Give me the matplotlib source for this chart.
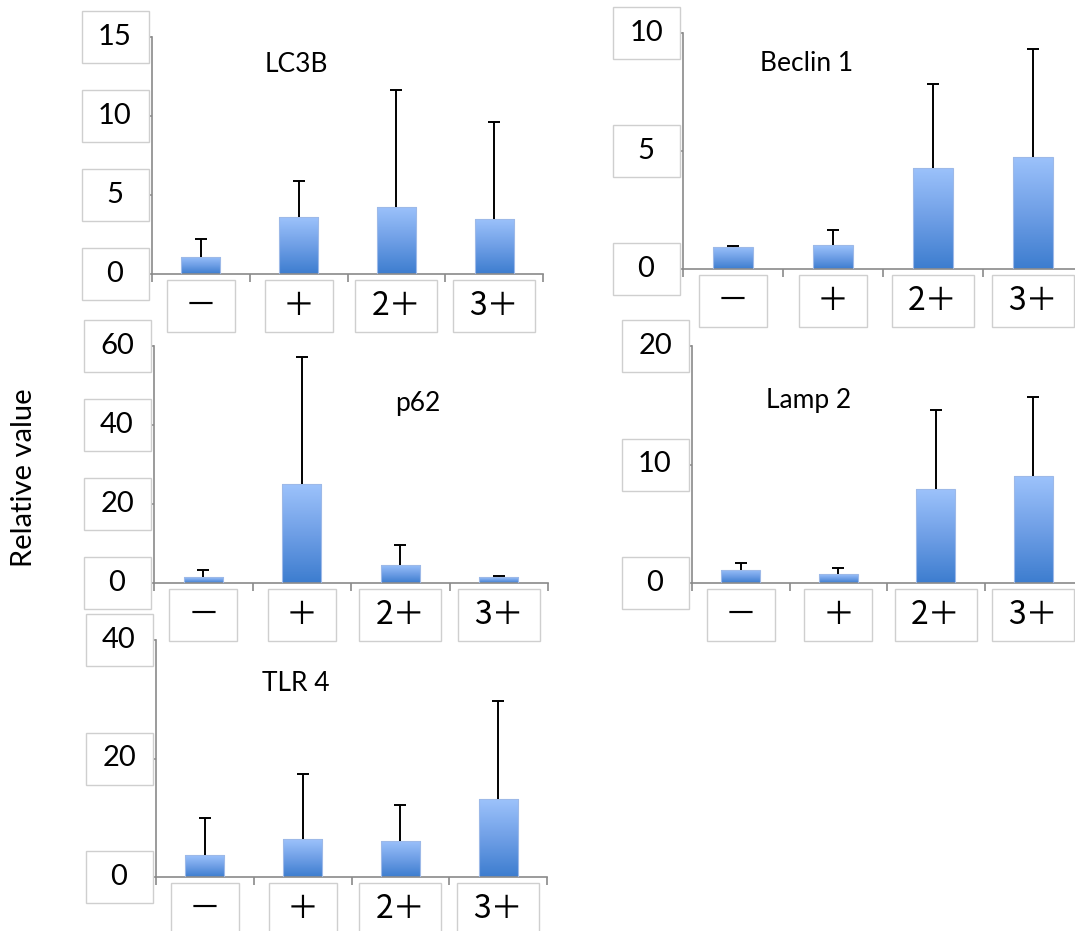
import matplotlib
matplotlib.use('Agg')
import numpy as np
import matplotlib.pyplot as plt
from matplotlib.colors import LinearSegmentedColormap
from matplotlib.patches import Rectangle
from matplotlib.transforms import IdentityTransform

plt.rcParams['font.family'] = ['Lato', 'Noto Sans CJK JP', 'DejaVu Sans']

groups = ['－', '＋', '2＋', '3＋']

lc3b_mean = [1.1, 3.6, 4.25, 3.5]
lc3b_sd = [1.1, 2.3, 7.4, 6.1]
lc3b_ticks = [0, 5, 10, 15]

beclin_mean = [0.95, 1.0, 4.28, 4.75]
beclin_sd = [0.04, 0.65, 3.56, 4.57]
beclin_ticks = [0, 5, 10]

p62_mean = [1.5, 25.0, 4.6, 1.5]
p62_sd = [1.8, 32.2, 5.0, 0.3]
p62_ticks = [0, 20, 40, 60]

lamp_mean = [1.1, 0.75, 7.9, 9.0]
lamp_sd = [0.6, 0.5, 6.7, 6.7]
lamp_ticks = [0, 10, 20]

tlr_mean = [3.7, 6.4, 6.1, 13.1]
tlr_sd = [6.25, 11.0, 6.0, 16.6]
tlr_ticks = [0, 20, 40]

W, H = 1075, 931
fig = plt.figure(figsize=(W / 100, H / 100), dpi=100)

grad = LinearSegmentedColormap.from_list('bar', ['#3d7dcf', '#6f9fe6', '#9cc2fb'])
axis_grey = '#8a8a8a'


def boxed(x, y, s, w, h=52, size=20, family=None):
    # white label box with light grey frame, drawn in pixel coords
    fig.add_artist(Rectangle((x - w / 2, y - h / 2), w, h, transform=IdentityTransform(),
                             fc='white', ec='#cfcfcf', lw=1, zorder=5))
    fig.text(x, y, s, transform=IdentityTransform(), ha='center', va='center',
             fontsize=size, family=family, zorder=6)


def panel(rect, title, mean, sd, ticks, title_pos):
    # rect given as left, top, right, bottom in image pixels
    l, t, r, b = rect
    ax = fig.add_axes([l / W, 1 - b / H, (r - l) / W, (b - t) / H])
    x = np.arange(len(groups))
    mean = np.array(mean)
    top = mean + np.array(sd)
    bars = ax.bar(x, mean, width=0.4, color='none', edgecolor='#9db9e8', lw=0.8, zorder=3)
    for p in bars.patches:
        x0, y0 = p.get_x(), p.get_y()
        img = ax.imshow(np.linspace(0, 1, 100).reshape(-1, 1), cmap=grad, aspect='auto',
                        origin='lower', extent=[x0, x0 + p.get_width(), y0, y0 + p.get_height()],
                        zorder=2)
        img.set_clip_path(p)
    # upper error bars only, cap on top
    ax.vlines(x, mean, top, color='black', lw=1.4, zorder=4)
    ax.plot(x, top, ls='none', marker='_', ms=9, mew=1.4, color='black', zorder=4)
    ax.set_xlim(-0.5, len(groups) - 0.5)
    ax.set_ylim(0, ticks[-1])
    ax.set_yticks(ticks)
    ax.set_xticks(np.arange(len(groups) + 1) - 0.5)
    ax.tick_params(labelleft=False, labelbottom=False, color=axis_grey, width=1.2)
    ax.tick_params(axis='y', length=5)
    ax.tick_params(axis='x', length=6)
    for s in ['top', 'right']:
        ax.spines[s].set_visible(False)
    for s in ['left', 'bottom']:
        ax.spines[s].set_color(axis_grey)
        ax.spines[s].set_linewidth(1.2)
    ax.text(title_pos[0], title_pos[1], title, transform=ax.transAxes, ha='center',
            va='baseline', fontsize=19)

    # boxed tick labels
    for v in ticks:
        px, py = ax.transData.transform((-0.5, v))
        boxed(px - 37, py, str(v), 67, size=21)
    for i, g in enumerate(groups):
        px, py = ax.transData.transform((i, 0))
        boxed(px, py - 6 - 26, g, 68 if len(g) == 1 else 82, size=23,
              family=['Noto Sans CJK JP'])
    return ax


panel((152, 37, 543, 274), 'LC3B', lc3b_mean, lc3b_sd, lc3b_ticks, (0.37, 0.852))
panel((683, 33, 1083, 269), 'Beclin 1', beclin_mean, beclin_sd, beclin_ticks, (0.31, 0.84))
panel((154, 346, 548, 583), 'p62', p62_mean, p62_sd, p62_ticks, (0.67, 0.726))
panel((692, 346, 1082, 583), 'Lamp 2', lamp_mean, lamp_sd, lamp_ticks, (0.30, 0.738))
panel((156, 640, 547, 877), 'TLR 4', tlr_mean, tlr_sd, tlr_ticks, (0.358, 0.785))

fig.text(24 / W, 1 - 478 / H, 'Relative value', rotation=90, ha='center', va='center',
         fontsize=21)

fig.savefig('out.png', dpi=100)
